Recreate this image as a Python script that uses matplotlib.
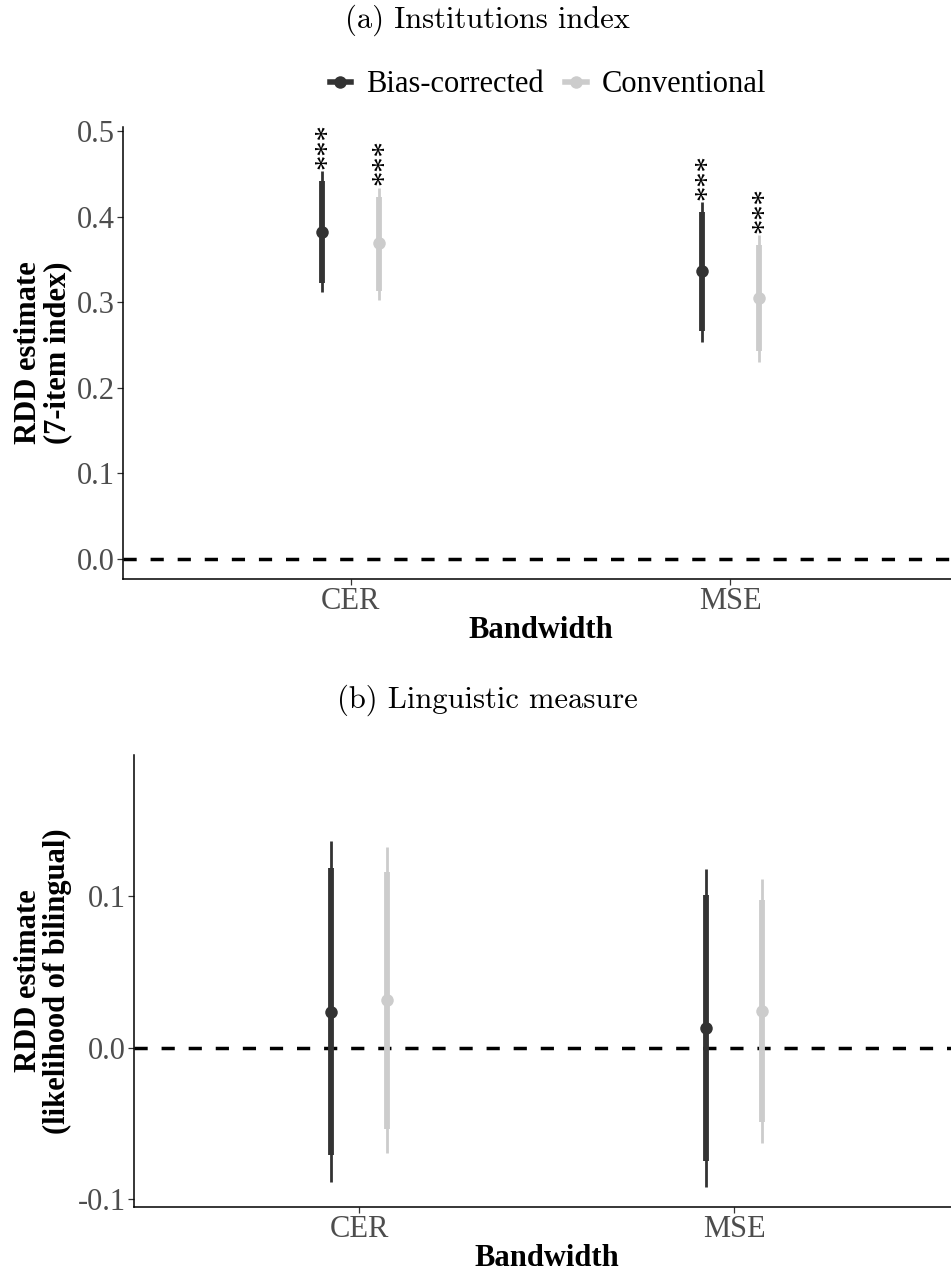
import matplotlib
matplotlib.use("Agg")
import matplotlib.pyplot as plt
from matplotlib.lines import Line2D

# ---------------- data ----------------
bandwidths = ["CER", "MSE"]
methods = ["Bias-corrected", "Conventional"]
colors = {"Bias-corrected": "#333333", "Conventional": "#CCCCCC"}

# Panel (a): Institutions index
a_est = {"Bias-corrected": [0.382, 0.336], "Conventional": [0.369, 0.305]}
a_inner_lo = {"Bias-corrected": [0.323, 0.266], "Conventional": [0.3135, 0.243]}
a_inner_hi = {"Bias-corrected": [0.442, 0.405], "Conventional": [0.4225, 0.367]}
a_outer_lo = {"Bias-corrected": [0.312, 0.254], "Conventional": [0.303, 0.2305]}
a_outer_hi = {"Bias-corrected": [0.453, 0.417], "Conventional": [0.434, 0.379]}
a_sig = {"Bias-corrected": ["***", "***"], "Conventional": ["***", "***"]}
a_yticks = [0.0, 0.1, 0.2, 0.3, 0.4, 0.5]
a_yticklabels = ["0.0", "0.1", "0.2", "0.3", "0.4", "0.5"]

# Panel (b): Linguistic measure
b_est = {"Bias-corrected": [0.024, 0.0134], "Conventional": [0.0317, 0.0244]}
b_inner_lo = {"Bias-corrected": [-0.0706, -0.0746], "Conventional": [-0.0537, -0.0486]}
b_inner_hi = {"Bias-corrected": [0.1186, 0.101], "Conventional": [0.1164, 0.0977]}
b_outer_lo = {"Bias-corrected": [-0.0887, -0.092], "Conventional": [-0.0695, -0.0629]}
b_outer_hi = {"Bias-corrected": [0.1368, 0.118], "Conventional": [0.1329, 0.1114]}
b_sig = {"Bias-corrected": ["", ""], "Conventional": ["", ""]}
b_yticks = [-0.1, 0.0, 0.1]
b_yticklabels = ["-0.1", "0.0", "0.1"]

# ---------------- style ----------------
SERIF = ["Liberation Serif", "DejaVu Serif"]
TITLE_FONT = ["cmr10", "DejaVu Serif"]
FS = 22
GRAY_TXT = "#4D4D4D"
dodge = {"Bias-corrected": -0.075, "Conventional": 0.075}

W, H = 951, 1274
fig = plt.figure(figsize=(W / 100, H / 100), dpi=100)


def px_axes(left, top, right, bottom):
    return fig.add_axes([left / W, 1 - bottom / H, (right - left) / W, (bottom - top) / H])


def draw_panel(ax, est, ilo, ihi, olo, ohi, sig, ylim, yticks, yticklabels, ylabel, ylab_x):
    for m in methods:
        xs = [i + 1 + dodge[m] for i in range(len(bandwidths))]
        ax.vlines(xs, olo[m], ohi[m], color=colors[m], lw=2.0, zorder=3)
        ax.vlines(xs, ilo[m], ihi[m], color=colors[m], lw=4.2, zorder=3)
        ax.plot(xs, est[m], "o", color=colors[m], ms=9, zorder=4, mec="none")
        for x, top, s in zip(xs, ohi[m], sig[m]):
            if s:
                ax.annotate(s, (x, top), xytext=(4.5, 1.5), textcoords="offset points",
                            rotation=90, ha="center", va="bottom", fontsize=FS,
                            family=SERIF, color="black")
    ax.axhline(0, color="black", lw=2.5, ls=(0, (3.8, 4)), zorder=2)
    ax.set_xlim(0.4, 2.6)
    ax.set_ylim(*ylim)
    ax.set_xticks([1, 2])
    ax.set_xticklabels(bandwidths, family=SERIF, fontsize=FS, color=GRAY_TXT)
    ax.set_yticks(yticks)
    ax.set_yticklabels(yticklabels, family=SERIF, fontsize=FS, color=GRAY_TXT)
    for s in ["top", "right"]:
        ax.spines[s].set_visible(False)
    for s in ["left", "bottom"]:
        ax.spines[s].set_linewidth(1.1)
        ax.spines[s].set_color("black")
    ax.tick_params(length=4, width=0.9, color="#333333", pad=2)
    ax.set_xlabel("Bandwidth", family=SERIF, fontsize=FS, fontweight="bold", labelpad=0)
    ax.set_ylabel(ylabel, family=SERIF, fontsize=FS, fontweight="bold",
                  linespacing=1.0)
    ax.yaxis.set_label_coords(ylab_x, 0.5)
    ax.patch.set_alpha(0)


# Panel (a)
ax1 = px_axes(123, 127, 958, 579)
draw_panel(ax1, a_est, a_inner_lo, a_inner_hi, a_outer_lo, a_outer_hi, a_sig,
           (-0.0234, 0.5047), a_yticks, a_yticklabels,
           "RDD estimate\n(7-item index)", (72 - 123) / 835)
fig.text(487 / W, 1 - 20 / H, "(a) Institutions index", family=TITLE_FONT,
         fontsize=FS, ha="center", va="center")

handles = [Line2D([0], [0], color=colors[m], lw=4, marker="o", ms=9, mec="none")
           for m in methods]
fig.legend(handles, methods, loc="center", bbox_to_anchor=(548 / W, 1 - 85 / H),
           ncol=2, frameon=False, prop={"family": SERIF, "size": FS},
           handlelength=0.7, handletextpad=0.5, columnspacing=0.7)

# Panel (b)
ax2 = px_axes(134, 755, 959, 1207)
draw_panel(ax2, b_est, b_inner_lo, b_inner_hi, b_outer_lo, b_outer_hi, b_sig,
           (-0.105, 0.1934), b_yticks, b_yticklabels,
           "RDD estimate\n(likelihood of bilingual)", (72 - 134) / 825)
fig.text(487 / W, 1 - 700 / H, "(b) Linguistic measure", family=TITLE_FONT,
         fontsize=FS, ha="center", va="center")

fig.savefig("out.png", dpi=100)
